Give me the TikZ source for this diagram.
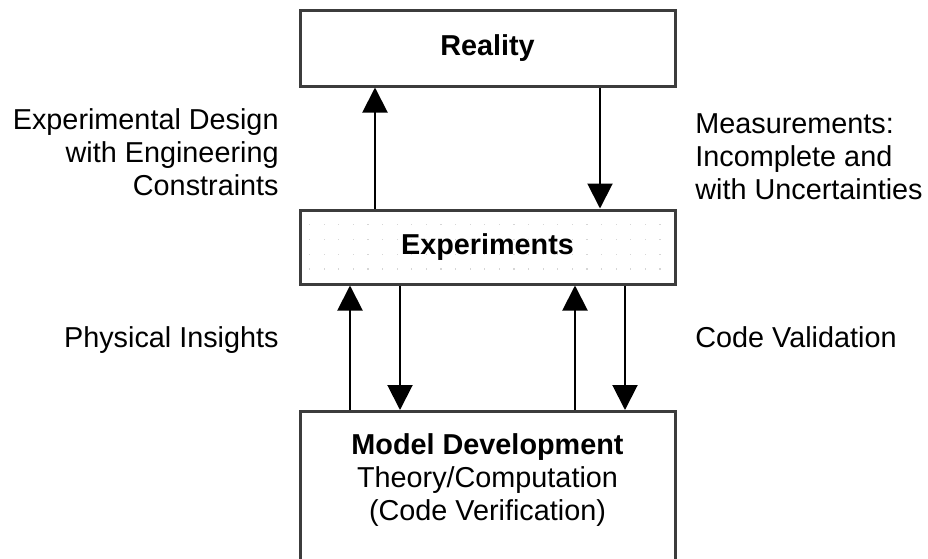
\documentclass[tikz,border=0pt]{standalone}
\usepackage{fontspec}
\setmainfont{Liberation Sans}
\usetikzlibrary{positioning,arrows.meta}
\definecolor{boxgray}{HTML}{3C3C3C}
\definecolor{dotgray}{HTML}{D6D6D6}
\begin{document}
\begin{tikzpicture}
[x=0.5pt,y=-0.5pt,
  font=\fontsize{14.4}{16.5}\selectfont,
  boxdecorate/.style={shape=rectangle,draw=boxgray,line width=1.5pt,minimum width=187.5pt,inner sep=0pt},%
  arrowdecorate/.style={-{Triangle[length=12.5pt,width=12.5pt]},line width=1pt},%
  textdecorate/.style={align=center,inner sep=0pt}]
\path[use as bounding box] (0,0) rectangle (928,558);
\clip (0,0) rectangle (928,558);
% dotted fill of the experiments box
\foreach \i in {0,...,24}
  \foreach \j in {0,...,3}
    \fill[dotgray] (309+14.6*\i,224+14.8*\j) rectangle +(1.2,1.2);
% boxes
\node (reality) at (487.5,48) [boxdecorate,minimum height=38pt] {\textbf{Reality}};
\node (exper) at (487.5,247) [boxdecorate,minimum height=37pt] {\textbf{Experiments}};
\node (model) at (487.5,410) [boxdecorate,minimum height=85pt,anchor=north] {};
\node (modeltext) [textdecorate,below=11.5pt of model.north]
  {\textbf{Model Development}\\Theory/Computation\\(Code Verification)};
% labels
\node (designlabel) [textdecorate,align=right,anchor=north east] at (279,108)
  {Experimental Design\\with Engineering\\Constraints};
\node (measurelabel) [textdecorate,align=left,anchor=north west] at (695,113)
  {Measurements:\\Incomplete and\\with Uncertainties};
\node (insightlabel) [anchor=base east,inner sep=0pt] at (279,347) {Physical Insights};
\node (validlabel) [anchor=base west,inner sep=0pt] at (695,347) {Code Validation};
% arrows
\path
([xshift=-56.25pt]exper.north) edge[arrowdecorate] ([xshift=-56.25pt]reality.south)
([xshift=56.25pt]reality.south) edge[arrowdecorate] ([xshift=56.25pt]exper.north)
([xshift=-68.75pt]model.north) edge[arrowdecorate] ([xshift=-68.75pt]exper.south)
([xshift=-43.75pt]exper.south) edge[arrowdecorate] ([xshift=-43.75pt]model.north)
([xshift=43.75pt]model.north) edge[arrowdecorate] ([xshift=43.75pt]exper.south)
([xshift=68.75pt]exper.south) edge[arrowdecorate] ([xshift=68.75pt]model.north);
\end{tikzpicture}
\end{document}
